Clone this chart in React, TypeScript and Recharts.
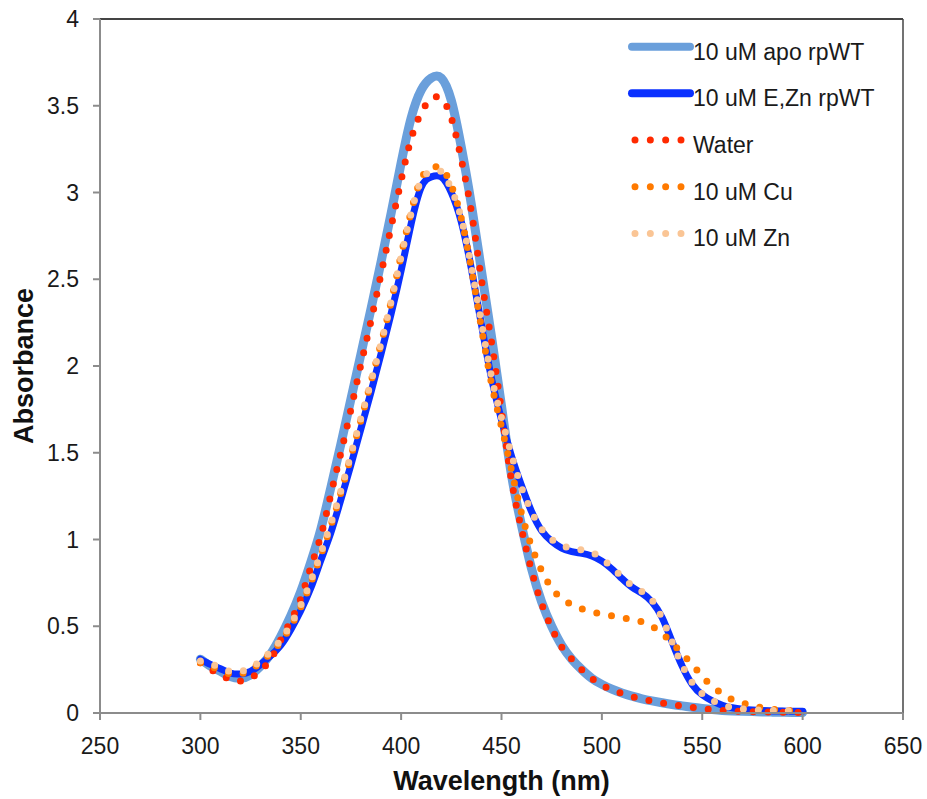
import React from 'react';
import { LineChart, Line, XAxis, YAxis, ReferenceLine, Legend, Label } from 'recharts';

const wavelengths = [
  300, 305, 310, 315, 320, 325, 330, 335, 340, 345, 350, 355, 360, 365, 370, 375, 380, 385, 390, 395,
  400, 405, 410, 415, 420, 425, 430, 435, 440, 445, 450, 455, 460, 465, 470, 475, 480, 485, 490, 495,
  500, 505, 510, 515, 520, 525, 530, 535, 540, 545, 550, 555, 560, 565, 570, 575, 580, 585, 590, 595, 600,
];

const apoRpWT = [
  0.31, 0.27, 0.24, 0.21, 0.2, 0.22, 0.27, 0.34, 0.44, 0.56, 0.7, 0.87, 1.06, 1.3, 1.55, 1.81, 2.07, 2.33, 2.6, 2.88,
  3.17, 3.43, 3.59, 3.66, 3.66, 3.53, 3.26, 2.93, 2.55, 2.17, 1.77, 1.37, 1.08, 0.83, 0.64, 0.5, 0.39, 0.31, 0.25, 0.2,
  0.165, 0.137, 0.115, 0.097, 0.082, 0.07, 0.059, 0.049, 0.041, 0.033, 0.026, 0.02, 0.015, 0.012, 0.01, 0.008, 0.006, 0.005, 0.004, 0.003, 0.003,
];

const eZnRpWT = [
  0.31, 0.28, 0.255, 0.23, 0.225, 0.24, 0.28, 0.33, 0.39, 0.48, 0.59, 0.72, 0.88, 1.04, 1.23, 1.43, 1.64, 1.85, 2.07, 2.3,
  2.55, 2.82, 3.03, 3.09, 3.09, 3.0, 2.83, 2.56, 2.24, 1.93, 1.69, 1.48, 1.31, 1.16, 1.05, 0.99, 0.95, 0.93, 0.92, 0.905,
  0.875, 0.83, 0.775, 0.725, 0.69, 0.64, 0.55, 0.41, 0.27, 0.165, 0.105, 0.07, 0.045, 0.03, 0.022, 0.017, 0.014, 0.012, 0.011, 0.01, 0.01,
];

const water = [
  0.29, 0.25, 0.225, 0.19, 0.185, 0.2, 0.245, 0.31, 0.42, 0.53, 0.66, 0.84, 1.02, 1.26, 1.5, 1.75, 2.01, 2.26, 2.53, 2.8,
  3.07, 3.31, 3.46, 3.54, 3.54, 3.43, 3.19, 2.89, 2.5, 2.14, 1.74, 1.34, 1.06, 0.82, 0.63, 0.49, 0.38, 0.31, 0.25, 0.2,
  0.16, 0.135, 0.113, 0.095, 0.08, 0.068, 0.057, 0.048, 0.04, 0.032, 0.025, 0.019, 0.015, 0.012, 0.01, 0.008, 0.006, 0.005, 0.004, 0.003, 0.003,
];

const cu10uM = [
  0.29, 0.27, 0.245, 0.225, 0.225, 0.25, 0.29, 0.345, 0.41, 0.5, 0.61, 0.75, 0.91, 1.08, 1.27, 1.48, 1.69, 1.91, 2.13, 2.37,
  2.64, 2.89, 3.08, 3.14, 3.14, 3.04, 2.85, 2.56, 2.22, 1.9, 1.65, 1.4, 1.15, 0.96, 0.82, 0.72, 0.66, 0.625, 0.6, 0.583,
  0.57, 0.56, 0.549, 0.54, 0.525, 0.5, 0.457, 0.405, 0.34, 0.28, 0.21, 0.155, 0.11, 0.078, 0.058, 0.042, 0.03, 0.022, 0.017, 0.014, 0.013,
];

const zn10uM = [
  0.3, 0.285, 0.26, 0.24, 0.24, 0.26, 0.3, 0.355, 0.42, 0.51, 0.62, 0.76, 0.92, 1.09, 1.28, 1.49, 1.7, 1.91, 2.13, 2.37,
  2.63, 2.88, 3.07, 3.12, 3.12, 3.02, 2.85, 2.57, 2.25, 1.94, 1.7, 1.49, 1.3, 1.16, 1.06, 1.0, 0.965, 0.95, 0.94, 0.925,
  0.89, 0.84, 0.785, 0.735, 0.7, 0.65, 0.545, 0.41, 0.275, 0.175, 0.11, 0.072, 0.047, 0.032, 0.024, 0.019, 0.016, 0.014, 0.013, 0.012, 0.012,
];

const seriesNames = ['10 uM apo rpWT', '10 uM E,Zn rpWT', 'Water', '10 uM Cu', '10 uM Zn'];
const xTicks = [250, 300, 350, 400, 450, 500, 550, 600, 650];
const yTicks = [0, 0.5, 1, 1.5, 2, 2.5, 3, 3.5, 4];

const rows = wavelengths.map((wl, i) => ({
  wl,
  apo: apoRpWT[i],
  ezn: eZnRpWT[i],
  water: water[i],
  cu: cu10uM[i],
  zn: zn10uM[i],
}));

const series = [
  { key: 'apo', name: seriesNames[0], color: '#6A9FDB', width: 9, dotted: false },
  { key: 'ezn', name: seriesNames[1], color: '#0A30FF', width: 7, dotted: false },
  { key: 'water', name: seriesNames[2], color: '#FF2A00', width: 7, dotted: true },
  { key: 'cu', name: seriesNames[3], color: '#FF7A00', width: 7, dotted: true },
  { key: 'zn', name: seriesNames[4], color: '#FAC595', width: 7, dotted: true },
];

const FONT = '"Liberation Sans", Arial, Helvetica, sans-serif';
const AXIS_GRAY = '#8c8c8c';

const renderLegend = () => (
  <svg width={290} height={240} style={{ display: 'block' }}>
    {series.map((s, i) => {
      const y = 26.7 + i * 46.67;
      return (
        <g key={s.key}>
          {s.dotted ? (
            <line x1={15} x2={61} y1={y} y2={y} stroke={s.color} strokeWidth={7} strokeLinecap="round" strokeDasharray="0 15.33" />
          ) : (
            <line x1={12} x2={70} y1={y} y2={y} stroke={s.color} strokeWidth={8} strokeLinecap="round" />
          )}
          <text x={73} y={y + 13} fontSize={23} fill="#1a1a1a" fontFamily={FONT}>
            {s.name}
          </text>
        </g>
      );
    })}
  </svg>
);

export default function App() {
  return (
    <div style={{ position: 'absolute', left: 0, top: 0, width: 927, height: 799, background: '#fff' }}>
      <LineChart width={927} height={799} data={rows} margin={{ top: 19, right: 24, left: 40, bottom: 56 }}>
        <XAxis
          dataKey="wl"
          type="number"
          domain={[250, 650]}
          ticks={xTicks}
          height={30}
          tickSize={7}
          tickMargin={18}
          axisLine={{ stroke: AXIS_GRAY, strokeWidth: 2 }}
          tickLine={{ stroke: AXIS_GRAY, strokeWidth: 2 }}
          tick={{ fontSize: 23, fill: '#1a1a1a', fontFamily: FONT }}
        >
          <Label
            content={() => (
              <text x={501.5} y={790} textAnchor="middle" fontSize={27} fontWeight="bold" fill="#111" fontFamily={FONT}>
                Wavelength (nm)
              </text>
            )}
          />
        </XAxis>
        <YAxis
          type="number"
          domain={[0, 4]}
          ticks={yTicks}
          width={60}
          tickSize={7}
          tickMargin={14}
          axisLine={{ stroke: AXIS_GRAY, strokeWidth: 2 }}
          tickLine={{ stroke: AXIS_GRAY, strokeWidth: 2 }}
          tick={{ fontSize: 23, fill: '#1a1a1a', fontFamily: FONT }}
        >
          <Label
            content={() => (
              <text x={33} y={366} transform="rotate(-90, 33, 366)" textAnchor="middle" fontSize={27} fontWeight="bold" fill="#111" fontFamily={FONT}>
                Absorbance
              </text>
            )}
          />
        </YAxis>
        <ReferenceLine y={4} stroke="#444" strokeWidth={2} />
        <ReferenceLine x={650} stroke="#444" strokeWidth={1.5} />
        {series.map((s) => (
          <Line
            key={s.key}
            dataKey={s.key}
            name={s.name}
            type="natural"
            stroke={s.color}
            strokeWidth={s.width}
            strokeLinecap="round"
            strokeLinejoin="round"
            strokeDasharray={s.dotted ? '0 15' : undefined}
            dot={false}
            activeDot={false}
            isAnimationActive={false}
          />
        ))}
        <Legend
          layout="vertical"
          align="center"
          verticalAlign="middle"
          content={renderLegend}
          wrapperStyle={{ left: 620, top: 20, width: 290, height: 240 }}
        />
      </LineChart>
    </div>
  );
}
